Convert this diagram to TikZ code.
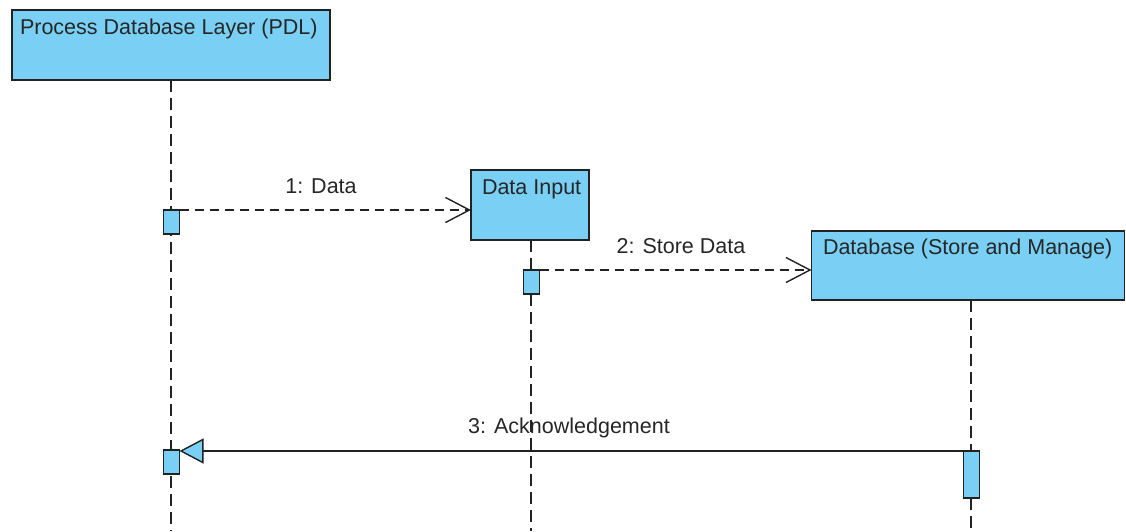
\documentclass[tikz,border=0pt]{standalone}
\usepackage{fontspec}
\setmainfont{Liberation Sans}
\usetikzlibrary{arrows.meta}
\definecolor{vpblue}{RGB}{122,207,245}
\definecolor{vpline}{RGB}{34,34,34}
\begin{document}
\begin{tikzpicture}[x=1pt,y=-1pt,
  every node/.style={inner sep=0pt,outer sep=0pt},
  headbox/.style={draw=vpline,fill=vpblue,line width=1.5pt,anchor=north west},
  actbox/.style={draw=vpline,fill=vpblue,line width=1.3pt,minimum width=16pt,anchor=north},
  txt/.style={font=\fontsize{21.5}{25}\selectfont,text=black!85},
  lifeline/.style={draw=vpline,line width=1.5pt,dash pattern=on 12pt off 6pt},
  asyncmsg/.style={draw=vpline,line width=1.4pt,dash pattern=on 9pt off 6pt,-{Straight Barb[length=24pt,width=25pt,line width=1.4pt]}},
  replymsg/.style={draw=vpline,line width=1.4pt,-{Triangle[open,length=24pt,width=25pt,line width=1.4pt,fill=vpblue]}}
]
\useasboundingbox (0,0) rectangle (1126,531);

% heads
\node[headbox,minimum width=318pt,minimum height=70pt] (pdl) at (12,10) {};
\node[headbox,minimum width=118pt,minimum height=70pt] (din) at (471,170) {};
\node[headbox,minimum width=313pt,minimum height=69pt] (db) at (811.5,231) {};

\node[txt,anchor=base west] (pdlT) at (20,34) {Process Database Layer (PDL)};
\node[txt,anchor=base west] (dinT) at (482,194) {Data Input};
\node[txt,anchor=base west] (dbT) at (823,254) {Database (Store and Manage)};

% lifeline ends
\coordinate (pdlEnd) at (171,531);
\coordinate (dinEnd) at (531,531);
\coordinate (dbEnd) at (971,531);

\draw[lifeline] (pdl.south -| pdlEnd) -- (pdlEnd);
\draw[lifeline] (din.south -| dinEnd) -- (dinEnd);
\draw[lifeline] (db.south -| dbEnd) -- (dbEnd);

% activations
\node[actbox,minimum height=24pt] (pdlA1) at (171.5,210) {};
\node[actbox,minimum height=24pt] (dinA) at (531.5,270) {};
\node[actbox,minimum height=24pt] (pdlA2) at (171.5,450) {};
\node[actbox,minimum height=47pt] (dbA) at (971.5,451) {};

% messages
\draw[asyncmsg] (pdlA1.north east) -- (pdlA1.north east -| din.west);
\draw[asyncmsg] (dinA.north east) -- (dinA.north east -| db.west);
\draw[replymsg] (dbA.north west) -- (dbA.north west -| pdlA2.east);

\node[txt,anchor=base] (m1) at (321,193) {1: Data};
\node[txt,anchor=base] (m2) at (681,253) {2: Store Data};
\node[txt,anchor=base] (m3) at (569,433) {3: Acknowledgement};
\end{tikzpicture}
\end{document}
